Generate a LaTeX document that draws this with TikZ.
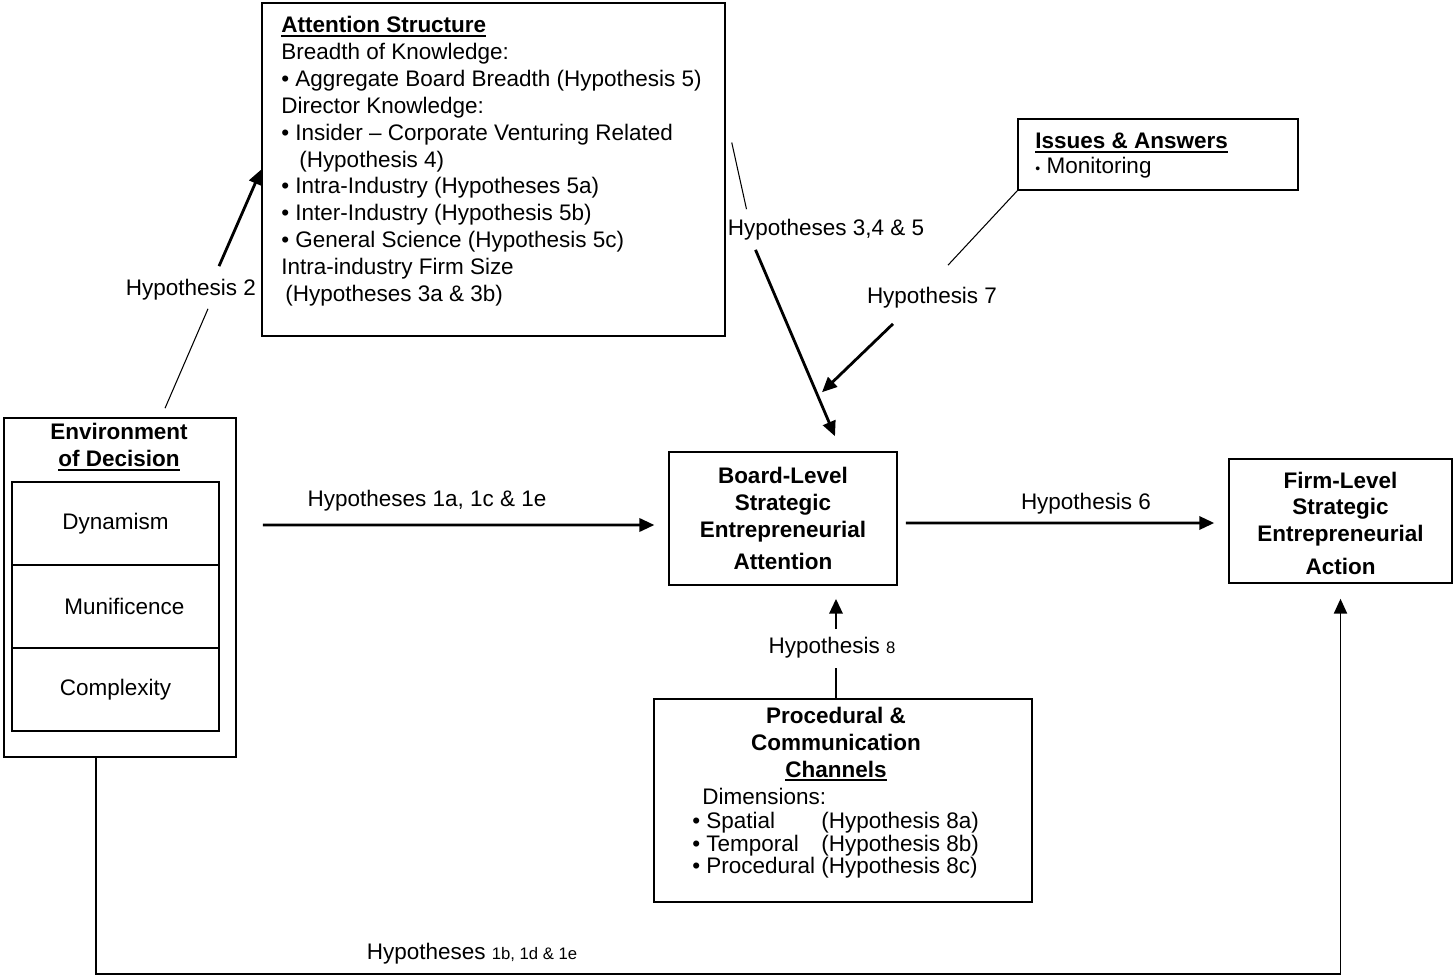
\documentclass[tikz,border=0pt]{standalone}
\usepackage{fontspec}
\setmainfont{Liberation Sans}
\usetikzlibrary{arrows.meta, positioning, calc}

\newcommand\bodyfont{\fontsize{12.8}{15.3}\selectfont}
\newcommand\smallnum{\fontsize{9.5}{10}\selectfont}
\newcommand\undl[1]{\vtop{\hbox{#1}\kern1.2pt\hrule height 0.9pt}}

\tikzset{
	frame/.style={draw, line width=0.9pt, inner sep=0pt},
	cell/.style={draw, line width=0.9pt, inner sep=0pt, outer sep=0pt, minimum width=4.14cm, minimum height=1.66cm},
	txt/.style={inner sep=0pt, align=left},
	hyp/.style={inner sep=0pt},
	link/.style={line width=0.6pt},
	arrow/.style={line width=1.6pt, -{Triangle[length=8.5pt,width=7.5pt]}},
}

\begin{document}
\begin{tikzpicture}[x=0.02cm, y=-0.02cm, every node/.style={font=\bodyfont}]
				\useasboundingbox (0,0) rectangle (1455,977);
				\node[frame, minimum width=9.26cm, minimum height=6.66cm] (att) at (493.5,169.5) {};
				\node[txt, anchor=north west] (atttext) at (281,16) {\textbf{\undl{Attention Structure}}\\
					Breadth of Knowledge:\\
					• Aggregate Board Breadth (Hypothesis 5)\\
					Director Knowledge:\\
					• Insider – Corporate Venturing Related\\
					\hspace*{10.2pt}(Hypothesis 4)\\
					• Intra-Industry (Hypotheses 5a)\\
					• Inter-Industry (Hypothesis 5b)\\
					• General Science (Hypothesis 5c)\\
					Intra-industry Firm Size\\
					\hspace*{2.3pt}(Hypotheses 3a \& 3b)};
				\node[frame, minimum width=5.6cm, minimum height=1.42cm] (issues) at (1158,154.5) {};
				\node[txt, anchor=north west] (issuestext) at (1035,133) {\textbf{\undl{Issues \& Answers}}\\[-1.1pt]
					{\fontsize{8}{8}\selectfont•} Monitoring};
				\node[frame, minimum width=4.64cm, minimum height=6.78cm] (env) at (120,587.5) {};
				\node[align=center, inner sep=0pt, font=\bodyfont\bfseries] (envtitle) at (119,447) {Environment\\\undl{of Decision}};
				\node[cell] (dyn) at (115.5,523.5) {Dynamism};
				\node[cell, below=0pt of dyn] (mun) {\hspace*{10pt}Munificence};
				\node[cell, below=0pt of mun] (cplx) {Complexity};
				\node[frame, minimum width=4.56cm, minimum height=2.66cm, align=center, font=\bodyfont\bfseries] (board) at (783,518.5) {Board-Level\\Strategic\\Entrepreneurial\\[2.9pt]Attention};
				\node[frame, minimum width=4.46cm, minimum height=2.48cm, align=center, font=\bodyfont\bfseries] (firm) at (1340.5,521) {\\[-3.4pt]Firm-Level\\Strategic\\Entrepreneurial\\[3.4pt]Action};
				\node[frame, minimum width=7.56cm, minimum height=4.06cm] (proc) at (843,800.5) {};
				\node[align=center, inner sep=0pt, font=\bodyfont\bfseries] (proctitle) at (836,744) {Procedural \&\\Communication\\\undl{Channels}};
				\node[txt, anchor=north west, font=\fontsize{12.8}{13}\selectfont] (proclist) at (692,788) {\hspace*{5.7pt}Dimensions:\\[0.4pt]
					\makebox[73.5pt][l]{• Spatial}(Hypothesis 8a)\\
					\makebox[73.5pt][l]{• Temporal}(Hypothesis 8b)\\
					• Procedural (Hypothesis 8c)};
				\node[hyp] (h2) at (191,290) {Hypothesis 2};
				\node[hyp] (h345) at (826,230) {Hypotheses 3,4 \& 5};
				\node[hyp] (h7) at (932,298) {Hypothesis 7};
				\node[hyp] (h1a) at (427,501) {Hypotheses 1a, 1c \& 1e};
				\node[hyp] (h6) at (1086,504) {Hypothesis 6};
				\node[hyp] (h8) at (832,648) {Hypothesis {\smallnum 8}};
				\node[hyp] (h1b) at (472,954) {Hypotheses {\smallnum 1b, 1d \& 1e}};
				\draw[link] ($(env.north)+(45,-9)$) -- ($(h2.south)+(17,8)$);
				\draw[arrow] ($(h2.north)+(28,-13)$) -- (att.west);
				\draw[link] ($(att.east)+(6,-27)$) -- ($(h345.north west)+(19,-10)$);
				\draw[arrow] ($(h345.south west)+(28,9)$) -- ($(board.north)+(52,-15)$);
				\draw[link] (issues.south west) -- ($(h7.north)+(16,-22)$);
				\draw[arrow] ($(h7.south)+(-39,15)$) -- ($(board.north)+(39,-59)$);
				\draw[arrow, shorten >=7.9pt] ($(env.east)+(26,-62.5)$) -- ($(board.west)+(0,6.5)$);
				\draw[arrow] ($(board.east)+(8,4.5)$) -- ($(firm.west)+(-14,2)$);
				\draw[link] ($(proc.north)+(-7,0)$) -- ($(proc.north)+(-7,-30)$);
				\draw[arrow] ($(h8.north)+(4,-8)$) -- ($(board.south)+(53,13)$);
				\draw[arrow, line width=1pt] ($(env.south)+(-24,0)$) -- ++(0,216) -| ($(firm.south)+(0,15)$);
			\end{tikzpicture}
\end{document}
